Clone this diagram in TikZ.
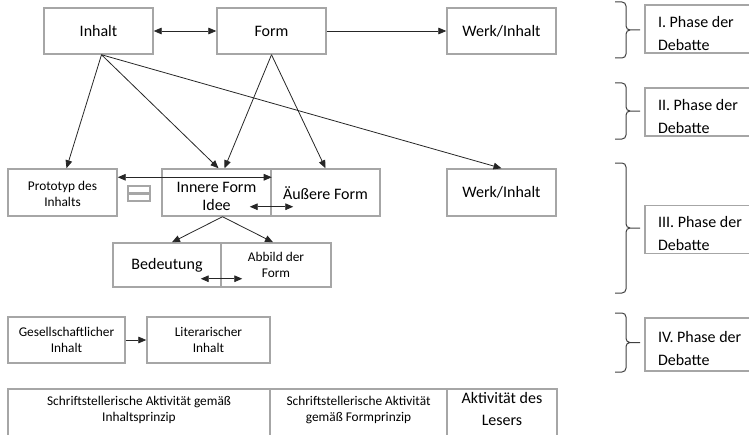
\documentclass[tikz,border=0pt]{standalone}
\usepackage{fontspec}
\setmainfont{Carlito}
\usetikzlibrary{arrows.meta,calc}
\frenchspacing
\newcommand\bigtx{\fontsize{12}{13.5}\selectfont}
\newcommand\smtx{\fontsize{10}{12}\selectfont}
\newcommand\phtx{\fontsize{12}{17.25}\selectfont}
\newcommand\up[1]{\rule{0pt}{#1}}
\newcommand\dn[1]{\rule[-#1]{0pt}{#1}}

\begin{document}
\begin{tikzpicture}[
  x=0.75pt, y=-0.75pt,
  >={Triangle[length=6pt,width=5pt]},
  box/.style={draw=gray!70, line width=1.1pt, align=center, inner sep=1pt, font=\bigtx},
  wh/.style 2 args={minimum width=#1*0.75pt, minimum height=#2*0.75pt},
  sm/.style={font=\smtx},
  phase/.style={draw=gray!70, line width=1.1pt, align=flush left, font=\phtx,
                text width=66.75pt, inner xsep=9.75pt, inner ysep=0pt, minimum height=36pt},
  e/.style={->, black!85, line width=0.6pt},
  ee/.style={<->, black!85, line width=0.6pt},
  br/.style={black!75, line width=0.75pt, rounded corners=3pt},
]
\useasboundingbox (0,0) rectangle (749,435);

\node[box, wh={109}{46}] (inh)   at (98.5,31)  {Inhalt};
\node[box, wh={109}{46}] (form)  at (271.5,31) {Form};
\node[box, wh={109}{46}] (werk1) at (501.5,31) {Werk/Inhalt};

\node[phase] (ph1) at (702.5,29)    {\up{15pt}I. Phase der\\Debatte};
\node[phase] (ph2) at (702.5,112)   {\up{15pt}II. Phase der\\Debatte};
\node[phase] (ph3) at (702.5,229.5) {\up{15pt}III. Phase der\\Debatte};
\node[phase, minimum height=39.75pt] (ph4) at (702.5,344.5) {\up{15pt}IV. Phase der\\Debatte};

\node[box, sm, wh={109}{47}] (proto)  at (62.5,192.5)  {\up{9.5pt}Prototyp des\\Inhalts};
\node[box, wh={109}{47}]     (innere) at (216.5,192.5) {\up{13.7pt}Innere Form\\Idee};
\node[box, wh={109}{47}]     (aeuss)  at (325.5,192.5) {\up{11pt}Äußere Form};
\node[box, wh={109}{47}]     (werk2)  at (501.5,192.5) {Werk/Inhalt};
\node[box, wh={108}{44}]     (bed)    at (167,265)     {Bedeutung};
\node[box, sm, wh={110}{44}] (abb)    at (276,265)     {Abbild der\\Form};

\node[box, sm, wh={117}{46}] (ges) at (66.5,340)  {Gesellschaftlicher\\Inhalt};
\node[box, sm, wh={123}{46}] (lit) at (208.5,340) {Literarischer\\Inhalt};

\node[box, sm, wh={262}{48}] (s1) at (139,413)   {Schriftstellerische Aktivität gemäß\\Inhaltsprinzip\dn{5.5pt}};
\node[box, sm, wh={177}{48}] (s2) at (358.5,413) {Schriftstellerische Aktivität\\gemäß Formprinzip\dn{5.5pt}};
\node[box, wh={110}{48}, font=\fontsize{12}{16.5}\selectfont] (s3) at (502,413) {Aktivität des\\Lesers\dn{6pt}};

\draw[gray!70, line width=0.9pt] (128,186) rectangle (150,193) (128,194) rectangle (150,201);

\foreach \a/\b in {2/58, 83/139, 163/293, 313/372}
  \draw[br] (615,\a) -- (626,\a) -- (626,{(\a+\b)/2}) -- (640,{(\a+\b)/2})
            (640,{(\a+\b)/2}) -- (626,{(\a+\b)/2}) -- (626,\b) -- (615,\b);

\draw[ee] (inh) -- (form);
\draw[e] (form) -- (werk1);
\draw[e] ($(inh.south)+(3,0)$) -- ($(proto.north)+(4,0)$);
\draw[e] ($(inh.south)+(3,0)$) -- ($(innere.north)+(2,0)$);
\draw[e] ($(inh.south)+(3,0)$) -- (werk2.north);
\draw[e] (form.south) -- ($(innere.north)+(8,0)$);
\draw[e] (form.south) -- (aeuss.north);
\draw[ee] ($(proto.north east)+(0,9)$) -- ($(innere.north east)+(0,9)$);
\draw[ee] ($(innere.south east)+(-22,-10)$) -- ($(aeuss.south west)+(23,-10)$);
\draw[e] ($(innere.south)+(6,0)$) -- ($(bed.north)+(5,0)$);
\draw[e] ($(innere.south)+(6,0)$) -- ($(abb.north)+(-3,0)$);
\draw[ee] ($(bed.south east)+(-21,-9)$) -- ($(abb.south west)+(22,-9)$);
\draw[e] (ges) -- (lit);
\end{tikzpicture}
\end{document}
